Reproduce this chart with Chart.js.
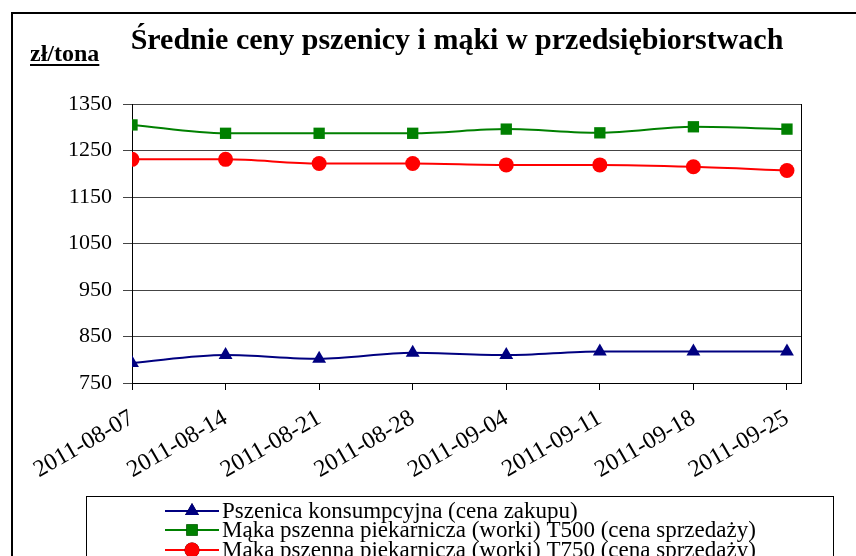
<!DOCTYPE html>
<html lang="pl">
<head>
<meta charset="utf-8">
<title>Średnie ceny pszenicy i mąki</title>
<script src="https://cdn.jsdelivr.net/npm/chart.js@4/dist/chart.umd.min.js"></script>
<style>
    html, body { margin: 0; padding: 0; background: #fff; }
    canvas { display: block; }
</style>
</head>
<body>
<canvas id="priceChart" width="856" height="556"></canvas>
<script>
// Data
const dates = ['2011-08-07', '2011-08-14', '2011-08-21', '2011-08-28', '2011-09-04', '2011-09-11', '2011-09-18', '2011-09-25'];
const wheatPrices = [793, 810, 802, 815, 810, 818, 818, 818];
const flourT500Prices = [1305, 1287, 1287, 1287, 1296, 1288, 1301, 1296];
const flourT750Prices = [1231, 1231, 1222, 1222, 1219, 1219, 1215, 1207];
const seriesNames = [
    'Pszenica konsumpcyjna (cena zakupu)',
    'Mąka pszenna piekarnicza (worki) T500 (cena sprzedaży)',
    'Mąka pszenna piekarnicza (worki) T750 (cena sprzedaży)'
];
const yMin = 750;
const yMax = 1350;
const yStep = 100;

const chartTitle = 'Średnie ceny pszenicy i mąki w przedsiębiorstwach';
const unitLabel = 'zł/tona';
const serif = '"Liberation Serif", "Times New Roman", serif';

const toPoints = values => values.map((v, i) => ({ x: i, y: v }));

// Frame, title, unit label, plot border and legend box
const decorations = {
    id: 'decorations',
    beforeDraw(chart) {
        const ctx = chart.ctx;
        ctx.save();
        ctx.fillStyle = '#fff';
        ctx.fillRect(0, 0, chart.width, chart.height);
        ctx.strokeStyle = '#000';
        ctx.lineWidth = 2;
        ctx.beginPath();
        ctx.moveTo(856, 13);
        ctx.lineTo(12, 13);
        ctx.lineTo(12, 556);
        ctx.stroke();
        ctx.restore();
    },
    afterDraw(chart) {
        const ctx = chart.ctx;
        const area = chart.chartArea;
        ctx.save();

        // plot area border (right side)
        ctx.strokeStyle = '#000';
        ctx.lineWidth = 1;
        ctx.beginPath();
        ctx.moveTo(Math.round(area.right) + 0.5, area.top);
        ctx.lineTo(Math.round(area.right) + 0.5, area.bottom);
        ctx.stroke();

        // title
        ctx.fillStyle = '#000';
        ctx.font = 'bold 30px ' + serif;
        ctx.textAlign = 'center';
        ctx.textBaseline = 'alphabetic';
        ctx.fillText(chartTitle, 457, 49);

        // unit label, underlined
        ctx.font = 'bold 24px ' + serif;
        ctx.textAlign = 'left';
        ctx.fillText(unitLabel, 30, 61);
        const w = ctx.measureText(unitLabel).width;
        ctx.fillRect(30, 64, w, 2);

        // legend box
        ctx.lineWidth = 1;
        ctx.strokeRect(86.5, 496.5, 747, 80);
        ctx.font = '23px ' + serif;
        ctx.textBaseline = 'middle';
        const rows = [511, 530, 550];
        chart.data.datasets.forEach((ds, i) => {
            const y = rows[i];
            ctx.strokeStyle = ds.borderColor;
            ctx.lineWidth = 2;
            ctx.beginPath();
            ctx.moveTo(165, y);
            ctx.lineTo(219, y);
            ctx.stroke();
            Chart.helpers.drawPoint(ctx, {
                pointStyle: ds.pointStyle,
                radius: ds.pointRadius,
                rotation: 0,
                borderWidth: 0
            }, 192, y);
            ctx.fillStyle = ds.backgroundColor;
            ctx.fill();
            ctx.fillStyle = '#000';
            ctx.fillText(seriesNames[i], 222, y + 1);
        });
        ctx.restore();
    }
};

const ctx = document.getElementById('priceChart').getContext('2d');
new Chart(ctx, {
    type: 'line',
    data: {
        datasets: [{
            label: seriesNames[0],
            data: toPoints(wheatPrices),
            borderColor: '#000080',
            backgroundColor: '#000080',
            pointStyle: 'triangle',
            pointRadius: 8
        }, {
            label: seriesNames[1],
            data: toPoints(flourT500Prices),
            borderColor: '#008000',
            backgroundColor: '#008000',
            pointStyle: 'rect',
            pointRadius: 8
        }, {
            label: seriesNames[2],
            data: toPoints(flourT750Prices),
            borderColor: '#ff0000',
            backgroundColor: '#ff0000',
            pointStyle: 'circle',
            pointRadius: 7.5
        }]
    },
    options: {
        responsive: false,
        animation: false,
        devicePixelRatio: 1,
        elements: {
            line: { borderWidth: 2, cubicInterpolationMode: 'monotone' },
            point: { borderWidth: 0, hoverRadius: 8 }
        },
        layout: {
            padding: { left: 0, right: 55, top: 104, bottom: 63 }
        },
        scales: {
            x: {
                type: 'linear',
                min: 0,
                max: 7.15,
                afterFit: scale => { scale.height = 110; },
                border: { color: '#000', width: 1 },
                grid: { drawOnChartArea: false, drawTicks: true, tickLength: 7, color: '#000' },
                ticks: {
                    stepSize: 1,
                    includeBounds: false,
                    autoSkip: false,
                    minRotation: 30,
                    maxRotation: 30,
                    padding: 14,
                    color: '#000',
                    font: { family: serif, size: 24 },
                    callback: v => Number.isInteger(v) ? dates[v] : ''
                }
            },
            y: {
                min: yMin,
                max: yMax,
                afterFit: scale => { scale.width = 132; },
                border: { color: '#000', width: 1 },
                grid: { color: '#444', tickLength: 9, drawTicks: true },
                ticks: {
                    stepSize: yStep,
                    padding: 11,
                    color: '#000',
                    font: { family: serif, size: 22 },
                    callback: v => String(v)
                }
            }
        },
        plugins: {
            legend: { display: false },
            title: { display: false },
            tooltip: { enabled: false }
        }
    },
    plugins: [decorations]
});
</script>
</body>
</html>
